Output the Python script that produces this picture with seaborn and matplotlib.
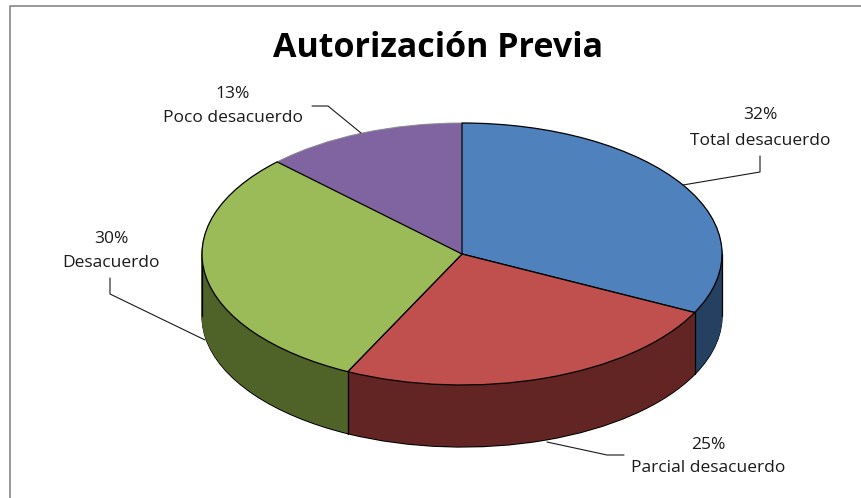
import numpy as np
import matplotlib
matplotlib.use("Agg")
import matplotlib.pyplot as plt
import seaborn as sns

title = "Autorización Previa"
categories = ["Total desacuerdo", "Parcial desacuerdo", "Desacuerdo", "Poco desacuerdo"]
values = [32.4, 24.9, 30.2, 12.6]
top_hex = ["#4F81BD", "#C0504D", "#9BBB59", "#8064A2"]
wall_hex = ["#254061", "#632523", "#4F6228", "#3F3151"]

sns.set_theme(style="white")
plt.rcParams["font.family"] = ["Open Sans", "DejaVu Sans"]
top_colors = sns.color_palette(top_hex)
wall_colors = sns.color_palette(wall_hex)

W, H = 862, 498
CX, CY, RX, RY, DEPTH = 462, 254, 260, 131, 62

fig = plt.figure(figsize=(W / 100, H / 100), dpi=100, facecolor="white")
ax = fig.add_axes([0, 0, 1, 1])

depth_u = DEPTH / RY
offsets = np.linspace(depth_u, 0, DEPTH + 1)[:-1]

# extruded wall: a stack of pies, deepest first
for k, off in enumerate(offsets):
    wedges, _ = ax.pie(values, colors=wall_colors, startangle=90, counterclock=False,
                       center=(0, -off), radius=1, frame=False)
    for w, c in zip(wedges, wall_colors):
        w.set_edgecolor("black" if k == 0 else c)
        w.set_linewidth(0.9 if k == 0 else 0.6)
        w.set_zorder(2 + k * 0.001)

wedges, _ = ax.pie(values, colors=top_colors, startangle=90, counterclock=False,
                   center=(0, 0), radius=1, frame=False)
for w in wedges:
    w.set_edgecolor("black")
    w.set_linewidth(0.9)
    w.set_zorder(4)
wedges[3].set_edgecolor("#8f8f8f")
wedges[3].set_linewidth(0.7)
wedges[3].set_zorder(3.9)

ax.set_aspect("auto")
ax.set_xlim(-CX / RX, (W - CX) / RX)
ax.set_ylim((CY - H) / RY, CY / RY)
ax.axis("off")

# vertical wall seams, taken from the slice boundaries
ends = np.cumsum(values) / np.sum(values) * 2 * np.pi
for a in ends:
    x, y = np.sin(a), np.cos(a)
    if y < 0:
        ax.plot([x, x], [y, y - depth_u], color="black", lw=0.9, zorder=3.5)
for x in (-1, 1):
    ax.plot([x, x], [0, -depth_u], color="black", lw=0.9, zorder=3.5)


def P(x, y):
    return x / W, 1 - y / H


def leader(points):
    xs, ys = zip(*[P(*p) for p in points])
    fig.add_artist(plt.Line2D(xs, ys, color="#1a1a1a", lw=0.8, transform=fig.transFigure, zorder=6))


# chart frame: only left and top visible
xs, ys = zip(*[P(10, H), P(10, 6), P(W, 6)])
fig.add_artist(plt.Line2D(xs, ys, color="#868686", lw=1.2, transform=fig.transFigure))

fig.text(*P(438, 48), title, ha="center", va="center", fontsize=24.5, fontweight="bold",
         color="black")

label_pos = [(760, 115, 141), (708, 445, 468), (111, 239, 263), (233, 94, 118)]
for cat, val, (x, y1, y2) in zip(categories, values, label_pos):
    fig.text(*P(x, y1), f"{round(val)}%", ha="center", va="center", fontsize=12.5, color="#1a1a1a")
    fig.text(*P(x, y2), cat, ha="center", va="center", fontsize=12.5, color="#1a1a1a")

leader([(760, 156), (760, 172), (683, 185)])
leader([(547, 442), (607, 455), (624, 455)])
leader([(110, 278), (110, 294), (205, 340)])
leader([(312, 106), (328, 106), (361, 133)])

fig.savefig("out.png", dpi=100, facecolor="white")
